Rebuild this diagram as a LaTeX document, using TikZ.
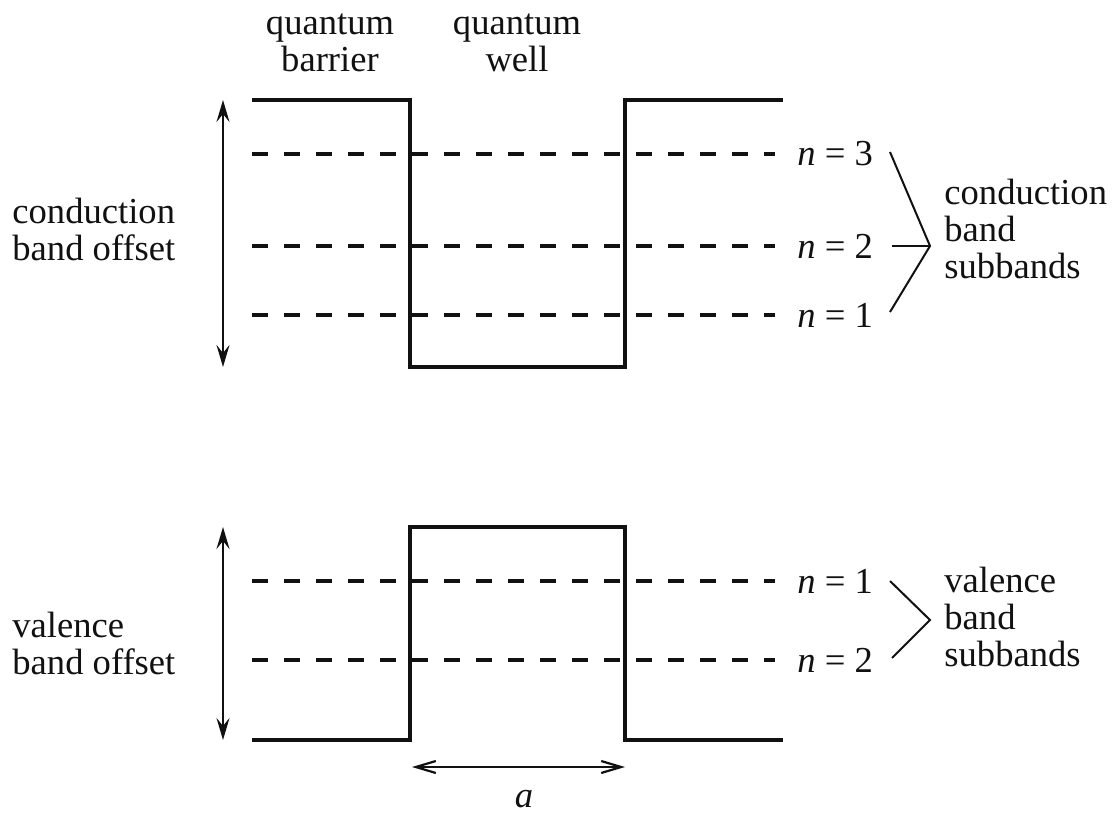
\documentclass[tikz,border=0pt]{standalone}
\usepackage{fontspec}
\setmainfont{Liberation Serif}
\usepackage{tikz}
\usetikzlibrary{arrows.meta,positioning}
\definecolor{ink}{HTML}{111111}
\tikzset{
  band/.style={draw=ink, line width=2pt, line join=miter},
  level/.style={draw=ink, line width=2pt, dash pattern=on 8pt off 8pt},
  offset/.style={{Stealth[length=11pt,width=6.5pt,inset=4pt]}-{Stealth[length=11pt,width=6.5pt,inset=4pt]},
                 draw=ink, line width=1.1pt},
  wspan/.style={{Straight Barb[length=10pt,width=6pt]}-{Straight Barb[length=10pt,width=6pt]},
                draw=ink, line width=1.1pt},
  brace/.style={draw=ink, line width=1pt},
  lbl/.style={font=\fontsize{18.3}{18.5}\selectfont, text=ink, inner sep=0pt},
  sidelbl/.style={lbl, align=left, anchor=west},
  toplbl/.style={lbl, align=center},
}

\begin{document}
\begin{tikzpicture}[x=0.5pt, y=-0.5pt]
\useasboundingbox (0,0) rectangle (1117,813);

% conduction band edge and its subbands
\draw[band] (252,100) -- (410,100) -- (410,367) -- (625,367) -- (625,100) -- (783,100);
\foreach \y/\n in {154/3, 246/2, 315/1}{
  \draw[level] (252,\y) -- (775,\y);
  \node[sidelbl] (cb\n) at (797,\y) {\textit{n} = \n};
}

% valence band edge and its subbands
\draw[band] (252,740) -- (410,740) -- (410,527) -- (625,527) -- (625,740) -- (783,740);
\foreach \y/\n in {581/1, 660/2}{
  \draw[level] (252,\y) -- (775,\y);
  \node[sidelbl] (vb\n) at (797,\y) {\textit{n} = \n};
}

% offsets
\coordinate (ctop) at (223,100);
\coordinate (cbot) at (223,367);
\coordinate (vtop) at (223,527);
\coordinate (vbot) at (223,740);
\draw[offset] (ctop) -- (cbot);
\draw[offset] (vtop) -- (vbot);
\node[sidelbl] (coff) at (12,229) {conduction\\band offset};
\node[sidelbl] (voff) at (12,643) {valence\\band offset};

% well width
\coordinate (wl) at (412,767);
\coordinate (wr) at (625,767);
\draw[wspan] (wl) -- (wr);
\node[lbl] (alen) at (524,799) {\textit{a}};

% region names
\node[toplbl] (barrier) at (330,43) {quantum\\barrier};
\node[toplbl] (well) at (517,43) {quantum\\well};

% subband groups
\coordinate (capex) at (930,246);
\coordinate (c3) at (890,152);
\coordinate (c2) at (892,246);
\coordinate (c1) at (890,312);
\draw[brace] (c3) -- (capex) -- (c1);
\draw[brace] (c2) -- (capex);
\node[sidelbl] (csub) at (944,229) {conduction\\band\\subbands};

\coordinate (vapex) at (930,620);
\coordinate (v1) at (890,581);
\coordinate (v2) at (892,658);
\draw[brace] (v1) -- (vapex) -- (v2);
\node[sidelbl] (vsub) at (944,617) {valence\\band\\subbands};
\end{tikzpicture}
\end{document}
